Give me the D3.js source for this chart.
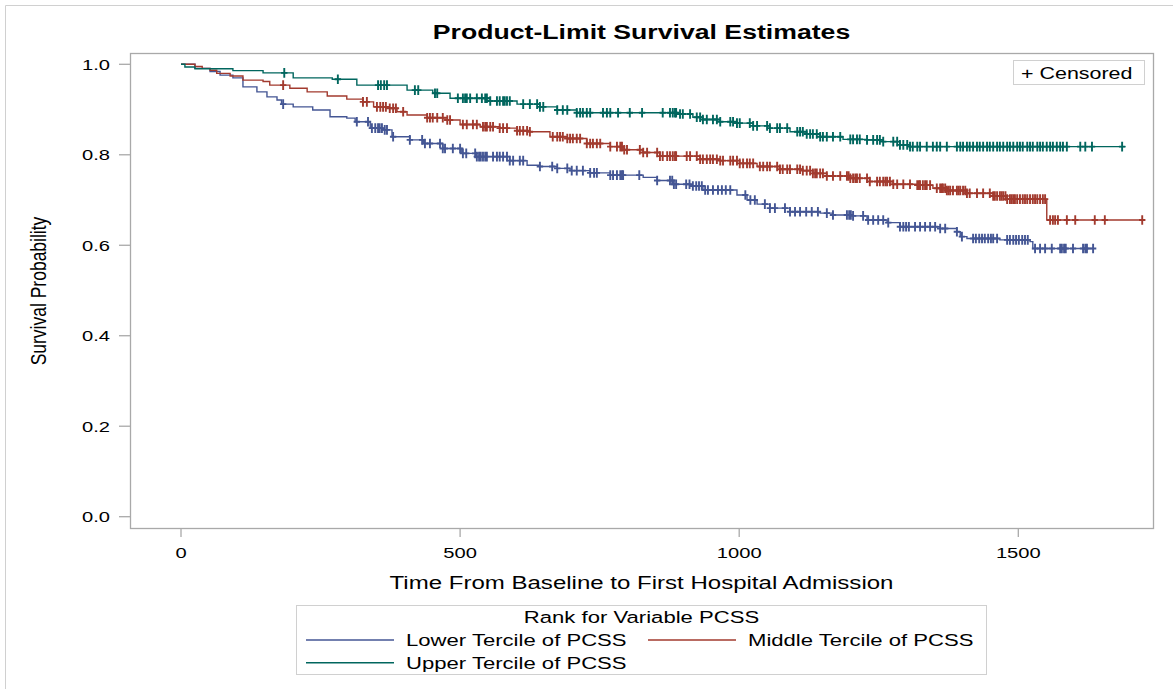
<!DOCTYPE html>
<html>
<head>
<meta charset="utf-8">
<script src="https://cdn.jsdelivr.net/npm/d3@7"></script>
<style>
  html, body { margin: 0; padding: 0; background: #fff; }
  svg { display: block; font-family: "Liberation Sans", Arial, sans-serif; }
</style>
</head>
<body>
<div id="chart"></div>
<script>
// Kaplan-Meier steps: [time, survival]
const lowerSteps = [[0,1.0],[25,0.991],[52,0.984],[70,0.976],[93,0.970],[111,0.950],[136,0.939],[154,0.928],[172,0.921],[180,0.912],[201,0.906],[236,0.899],[267,0.884],[297,0.881],[312,0.873],[339,0.859],[362,0.855],[378,0.840],[410,0.833],[434,0.825],[469,0.814],[503,0.803],[528,0.796],[589,0.787],[620,0.777],[643,0.774],[674,0.770],[697,0.765],[733,0.760],[769,0.755],[828,0.750],[853,0.743],[881,0.735],[912,0.731],[935,0.722],[996,0.711],[1014,0.700],[1032,0.691],[1055,0.682],[1091,0.674],[1145,0.671],[1168,0.667],[1204,0.665],[1229,0.656],[1265,0.650],[1288,0.641],[1360,0.637],[1390,0.630],[1396,0.619],[1408,0.615],[1467,0.612],[1521,0.608],[1526,0.593]];
const middleSteps = [[0,1.0],[25,0.995],[38,0.991],[52,0.987],[64,0.980],[88,0.974],[111,0.965],[147,0.962],[159,0.954],[195,0.947],[226,0.939],[262,0.930],[297,0.923],[326,0.917],[345,0.906],[369,0.903],[387,0.895],[405,0.888],[441,0.882],[477,0.877],[500,0.867],[536,0.862],[571,0.859],[602,0.853],[625,0.851],[661,0.840],[692,0.836],[727,0.825],[769,0.818],[792,0.811],[828,0.805],[858,0.797],[930,0.790],[966,0.787],[1001,0.781],[1032,0.774],[1073,0.768],[1114,0.765],[1132,0.759],[1157,0.753],[1199,0.748],[1234,0.741],[1276,0.735],[1319,0.733],[1347,0.726],[1372,0.721],[1408,0.715],[1455,0.709],[1480,0.702],[1551,0.656]];
const upperSteps = [[0,1.0],[7,0.994],[25,0.990],[93,0.986],[147,0.981],[201,0.970],[271,0.967],[315,0.954],[405,0.943],[451,0.936],[482,0.925],[554,0.919],[602,0.912],[643,0.906],[674,0.899],[709,0.893],[889,0.890],[917,0.883],[935,0.878],[966,0.873],[996,0.870],[1025,0.864],[1055,0.859],[1091,0.851],[1121,0.846],[1145,0.840],[1186,0.834],[1229,0.833],[1258,0.829],[1288,0.822],[1306,0.818]];

// last follow-up time of each group
const lastTimes = [1634, 1722, 1692];

// censored times
const lowerCensored = [183,315,335,342,348,353,356,360,365,369,380,410,432,437,446,464,469,473,487,500,505,511,527,530,534,537,541,545,548,559,566,571,577,584,589,595,607,613,643,665,674,692,700,709,720,733,740,745,769,774,781,787,790,792,821,853,876,880,883,887,905,911,917,923,928,933,939,944,953,962,969,976,984,1011,1020,1028,1046,1055,1064,1082,1091,1100,1109,1120,1130,1141,1157,1168,1193,1197,1200,1204,1222,1231,1240,1249,1258,1267,1288,1294,1299,1304,1315,1324,1333,1342,1351,1360,1369,1390,1399,1419,1424,1430,1435,1440,1446,1451,1455,1462,1480,1485,1491,1496,1501,1507,1512,1517,1530,1539,1548,1560,1575,1578,1582,1585,1598,1616,1620,1623,1634];
const middleCensored = [183,326,333,351,357,362,367,374,380,385,398,441,446,451,459,469,477,482,505,512,523,530,541,545,548,554,559,571,577,584,602,607,613,620,625,666,674,679,684,692,697,702,709,715,727,733,738,745,751,769,781,787,790,794,799,822,828,835,853,858,863,871,876,881,885,887,906,912,924,930,935,942,948,953,960,966,971,984,989,996,1001,1007,1014,1019,1025,1037,1043,1050,1055,1068,1073,1078,1086,1091,1104,1109,1114,1121,1127,1132,1136,1139,1145,1150,1157,1168,1181,1193,1196,1199,1204,1208,1211,1216,1229,1234,1247,1252,1258,1262,1265,1270,1276,1283,1294,1306,1319,1322,1324,1329,1333,1336,1342,1354,1360,1363,1365,1369,1372,1375,1378,1383,1390,1393,1396,1401,1405,1408,1413,1426,1437,1449,1455,1458,1462,1467,1470,1473,1477,1480,1485,1488,1491,1494,1498,1503,1508,1512,1516,1521,1526,1530,1534,1539,1544,1548,1557,1562,1566,1571,1587,1602,1637,1655,1722];
const upperCensored = [185,281,353,358,364,369,419,425,455,459,496,505,509,512,518,530,539,545,548,554,566,571,577,580,584,589,613,625,638,643,649,674,684,692,709,715,720,727,733,756,763,769,783,804,826,863,876,881,885,887,894,899,912,924,930,935,942,953,960,966,984,989,996,1001,1019,1025,1032,1050,1055,1068,1073,1086,1104,1109,1114,1121,1127,1132,1139,1145,1150,1157,1168,1181,1199,1204,1211,1216,1229,1240,1247,1252,1258,1276,1283,1288,1294,1301,1306,1311,1319,1324,1336,1347,1354,1360,1372,1390,1396,1401,1408,1413,1419,1426,1431,1437,1444,1449,1455,1462,1467,1473,1480,1485,1491,1498,1503,1508,1516,1521,1526,1534,1539,1544,1551,1557,1562,1569,1575,1580,1587,1611,1620,1632,1686];

const groupNames = ["Lower Tercile of PCSS", "Middle Tercile of PCSS", "Upper Tercile of PCSS"];
const groupColors = ["#445694", "#A23A2E", "#01665E"];
const xTicks = [0, 500, 1000, 1500];
const yTicks = [0.0, 0.2, 0.4, 0.6, 0.8, 1.0];

const width = 1173, height = 689;
const SX = 1.3; // horizontal stretch of the source rendering
const frame = { left: 130, right: 1153, top: 53, bottom: 528 };

const x = d3.scaleLinear().domain([0, 1500]).range([181, 1018.3]);
const y = d3.scaleLinear().domain([0, 1]).range([516.7, 64.3]);

const svg = d3.select("#chart").append("svg")
    .attr("width", width)
    .attr("height", height);

function label(g, px, py, str, size, anchor, weight) {
    return g.append("text")
        .attr("transform", `translate(${px},${py}) scale(${SX},1)`)
        .attr("text-anchor", anchor || "start")
        .attr("font-size", size)
        .attr("font-weight", weight || "normal")
        .attr("fill", "#000")
        .text(str);
}

// outer border
svg.append("path")
    .attr("d", "M5.5,700 V5.5 H1180")
    .attr("fill", "none")
    .attr("stroke", "#d0d0d0");

// title
label(svg, (frame.left + frame.right) / 2, 39, "Product-Limit Survival Estimates", 20.5, "middle", "bold");

// plot frame
svg.append("rect")
    .attr("x", frame.left + 0.5).attr("y", frame.top + 0.5)
    .attr("width", frame.right - frame.left).attr("height", frame.bottom - frame.top)
    .attr("fill", "none").attr("stroke", "#a9a9a9").attr("stroke-width", 1.3);

// axes
const xAxis = svg.append("g").attr("transform", `translate(0,${frame.bottom})`);
xAxis.selectAll("line").data(xTicks).join("line")
    .attr("x1", d => x(d)).attr("x2", d => x(d))
    .attr("y1", 0).attr("y2", 9)
    .attr("stroke", "#a9a9a9").attr("stroke-width", 1.3);
xTicks.forEach(d => label(xAxis, x(d), 30, d3.format("d")(d), 15.5, "middle"));

const yAxis = svg.append("g").attr("transform", `translate(${frame.left},0)`);
yAxis.selectAll("line").data(yTicks).join("line")
    .attr("x1", -11).attr("x2", 0)
    .attr("y1", d => y(d)).attr("y2", d => y(d))
    .attr("stroke", "#a9a9a9").attr("stroke-width", 1.3);
yTicks.forEach(d => label(yAxis, -20, y(d) + 5.5, d3.format(".1f")(d), 15.5, "end"));

label(svg, (frame.left + frame.right) / 2, 589, "Time From Baseline to First Hospital Admission", 18.5, "middle");

svg.append("text")
    .attr("transform", `translate(46,291) rotate(-90) scale(1,${SX})`)
    .attr("text-anchor", "middle")
    .attr("font-size", 17.5)
    .attr("fill", "#000")
    .text("Survival Probability");

// survival curves
const stepsAll = [lowerSteps, middleSteps, upperSteps];
const censAll = [lowerCensored, middleCensored, upperCensored];
const bis = d3.bisector(d => d[0]).right;
const surv = (steps, t) => steps[Math.max(0, bis(steps, t) - 1)][1];

const line = d3.line()
    .x(d => x(d[0]))
    .y(d => y(d[1]))
    .curve(d3.curveStepAfter);

const curves = svg.append("g");
stepsAll.forEach((steps, i) => {
    const pts = steps.concat([[lastTimes[i], steps[steps.length - 1][1]]]);
    curves.append("path")
        .datum(pts)
        .attr("d", line)
        .attr("fill", "none")
        .attr("stroke", groupColors[i])
        .attr("stroke-width", 1.4);
    curves.append("g")
        .selectAll("path")
        .data(censAll[i])
        .join("path")
        .attr("d", t => {
            const cx = x(t), cy = y(surv(steps, t));
            return `M${cx - 3.2},${cy}H${cx + 3.2}M${cx},${cy - 4.8}V${cy + 4.8}`;
        })
        .attr("stroke", groupColors[i])
        .attr("stroke-width", 1.9)
        .attr("fill", "none");
});

// censored legend box
svg.append("rect")
    .attr("x", 1013.5).attr("y", 60.5).attr("width", 131).attr("height", 24)
    .attr("fill", "#fff").attr("stroke", "#d0d0d0");
label(svg, 1021, 78.5, "+ Censored", 16.5, "start");

// group legend
const leg = svg.append("g");
leg.append("rect")
    .attr("x", 296.5).attr("y", 605.5).attr("width", 690).attr("height", 69)
    .attr("fill", "none").attr("stroke", "#d0d0d0");
label(leg, 641.5, 622.5, "Rank for Variable PCSS", 17, "middle");

const legItems = [
    { x0: 306, row: 640 },
    { x0: 648, row: 640 },
    { x0: 306, row: 662.7 }
];
legItems.forEach((p, i) => {
    leg.append("line")
        .attr("x1", p.x0).attr("x2", p.x0 + 88)
        .attr("y1", p.row).attr("y2", p.row)
        .attr("stroke", groupColors[i]).attr("stroke-width", 1.4);
    label(leg, p.x0 + 100, p.row + 6, groupNames[i], 17, "start");
});
</script>
</body>
</html>
